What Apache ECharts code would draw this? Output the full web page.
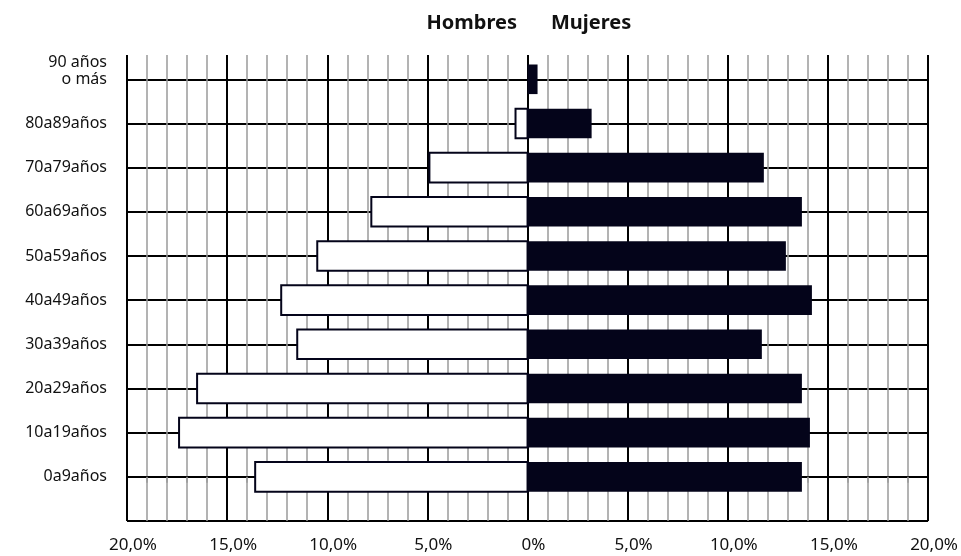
<!DOCTYPE html>
<html lang="es">
<head>
<meta charset="utf-8">
<title>Pirámide de población</title>
<script src="https://cdn.jsdelivr.net/npm/echarts@6/dist/echarts.min.js"></script>
<style>
  html, body { margin: 0; padding: 0; background: #ffffff; }
  #chart { width: 961px; height: 556px; }
</style>
</head>
<body>
<div id="chart"></div>
<script>
// Age groups, from youngest (bottom) to oldest (top)
const categories = [
  '0a9años', '10a19años', '20a29años', '30a39años', '40a49años',
  '50a59años', '60a69años', '70a79años', '80a89años', '90 años\no más'
];
// Share of each group, in percent
const hombres = [13.6, 17.4, 16.5, 11.5, 12.3, 10.5, 7.8, 4.9, 0.6, 0];
const mujeres = [13.7, 14.1, 13.7, 11.7, 14.2, 12.9, 13.7, 11.8, 3.2, 0.5];
const seriesNames = ['Hombres', 'Mujeres'];
// Percentage axis
const xMin = -20, xMax = 20, xStep = 5;

const FONT = 'Noto Sans';
const INK = '#04041a';

function pctLabel(v) {
  if (v === 0) return '0%';
  return Math.abs(v).toFixed(1).replace('.', ',') + '%';
}

function barData(values, sign) {
  return values.map((v, i) => [sign * v, i]);
}

function makeRender(fill) {
  return function (params, api) {
    const v = api.value(0);
    const i = api.value(1);
    if (!v) return null;
    const a = api.coord([0, i]);
    const b = api.coord([v, i]);
    const h = api.size([0, 1])[1] * 0.67;
    return {
      type: 'rect',
      shape: {
        x: Math.min(a[0], b[0]),
        y: a[1] - h / 2,
        width: Math.abs(b[0] - a[0]),
        height: h
      },
      style: fill === 'white'
        ? { fill: '#ffffff', stroke: INK, lineWidth: 2 }
        : { fill: INK }
    };
  };
}

const chart = echarts.init(document.getElementById('chart'), null, { renderer: 'canvas' });

chart.setOption({
  animation: false,
  backgroundColor: '#ffffff',
  textStyle: { fontFamily: FONT },
  title: [
    {
      text: seriesNames[0], right: 444, top: 13, padding: 0,
      textStyle: { fontFamily: FONT, fontSize: 20, fontWeight: 'bold', color: '#111' }
    },
    {
      text: seriesNames[1], left: 551, top: 13, padding: 0,
      textStyle: { fontFamily: FONT, fontSize: 20, fontWeight: 'bold', color: '#111' }
    }
  ],
  grid: { left: 127, right: 31, top: 55, bottom: 35, containLabel: false },
  xAxis: {
    type: 'value',
    min: xMin,
    max: xMax,
    interval: xStep,
    axisLine: { show: true, lineStyle: { color: '#000', width: 2 } },
    axisTick: { show: true, length: 12, lineStyle: { color: '#000', width: 2 } },
    minorTick: { show: true, splitNumber: 5, length: 6, lineStyle: { color: '#9a9a9a', width: 1.5 } },
    splitLine: { show: true, lineStyle: { color: '#000', width: 2 } },
    minorSplitLine: { show: true, lineStyle: { color: '#9a9a9a', width: 1.5 } },
    axisLabel: {
      formatter: pctLabel,
      margin: 16,
      padding: [0, 0, 0, 12],
      fontFamily: FONT,
      fontSize: 17,
      color: '#111'
    }
  },
  yAxis: {
    type: 'value',
    min: -1,
    max: 9.55,
    interval: 1,
    axisLine: { show: false },
    axisTick: {
      show: true,
      length: 10,
      customValues: [-1].concat(categories.map((c, i) => i)),
      lineStyle: { color: '#000', width: 2 }
    },
    splitLine: { show: true, lineStyle: { color: '#000', width: 2 } },
    axisLabel: {
      customValues: categories.map((c, i) => i),
      formatter: (v) => {
        const c = categories[Math.round(v)];
        if (c === undefined) return '';
        return c.indexOf('\n') >= 0 ? c + '\n' : c;
      },
      margin: 20,
      fontFamily: FONT,
      fontSize: 16,
      lineHeight: 17,
      color: '#111',
      align: 'right'
    }
  },
  series: [
    {
      name: seriesNames[0],
      type: 'custom',
      renderItem: makeRender('white'),
      encode: { x: 0, y: 1 },
      data: barData(hombres, -1),
      z: 5
    },
    {
      name: seriesNames[1],
      type: 'custom',
      renderItem: makeRender('black'),
      encode: { x: 0, y: 1 },
      data: barData(mujeres, 1),
      z: 6
    }
  ]
});
</script>
</body>
</html>
